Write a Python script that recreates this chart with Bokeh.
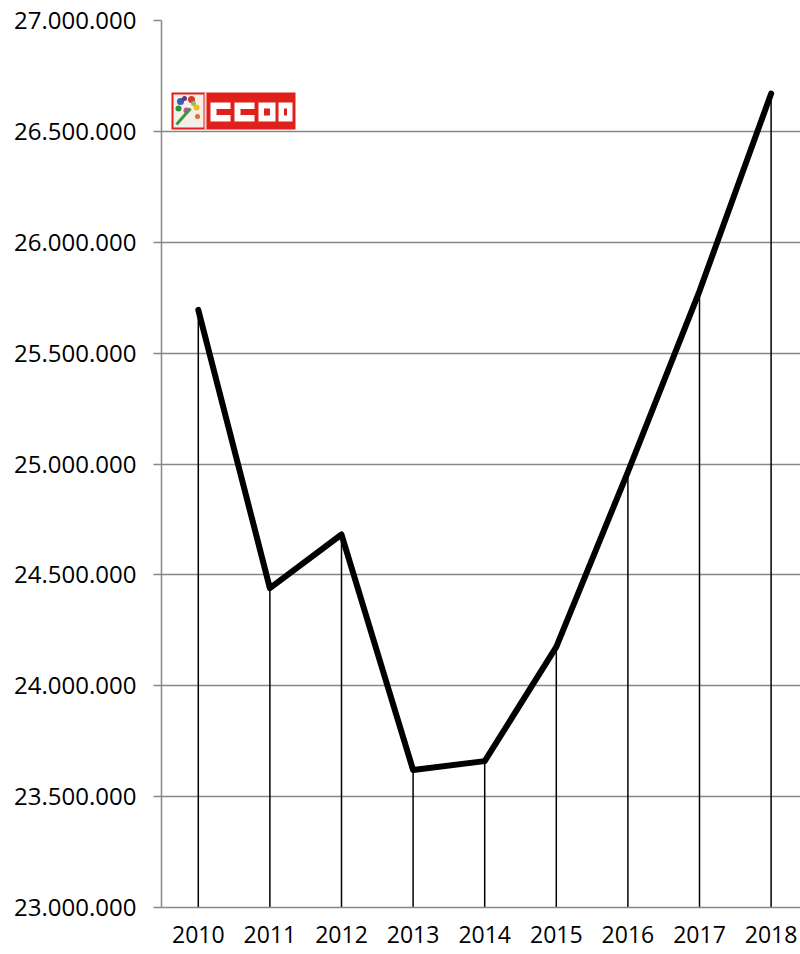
from bokeh.plotting import figure
from bokeh.models import FixedTicker, CustomJSTickFormatter, Range1d
from bokeh.embed import file_html
from bokeh.resources import INLINE

# ---- data ----
years = [2010, 2011, 2012, 2013, 2014, 2015, 2016, 2017, 2018]
values = [25695000, 24440000, 24682000, 23620000, 23660000,
          24175000, 24965000, 25780000, 26670000]
y_ticks = [23000000, 23500000, 24000000, 24500000, 25000000,
           25500000, 26000000, 26500000, 27000000]

Y_MIN, Y_MAX = 23000000, 27000000
FRAME_W = 639.0
PX_PER_YEAR = 71.6
X_START = 2010 - (197.8 - 161.0) / PX_PER_YEAR
X_END = X_START + FRAME_W / PX_PER_YEAR

GRAY = "#878787"
FONT = "Open Sans"

p = figure(width=800, height=954,
           x_range=Range1d(X_START, X_END), y_range=Range1d(Y_MIN, Y_MAX),
           output_backend="svg", toolbar_location=None,
           min_border_left=161, min_border_right=0,
           min_border_top=20, min_border_bottom=47)

p.outline_line_color = None
p.xgrid.visible = False
p.ygrid.grid_line_color = GRAY
p.ygrid.grid_line_width = 1.5
p.ygrid.ticker = FixedTicker(ticks=y_ticks)

# y axis
p.yaxis.ticker = FixedTicker(ticks=y_ticks)
p.yaxis.formatter = CustomJSTickFormatter(
    code="return Math.round(tick).toString().replace(/\\B(?=(\\d{3})+(?!\\d))/g, '.');")
p.yaxis.axis_line_color = GRAY
p.yaxis.axis_line_width = 1.5
p.yaxis.major_tick_line_color = GRAY
p.yaxis.major_tick_line_width = 1.5
p.yaxis.major_tick_out = 8
p.yaxis.major_tick_in = 0
p.yaxis.minor_tick_line_color = None
p.yaxis.major_label_standoff = 17
p.yaxis.major_label_text_font = FONT
p.yaxis.major_label_text_font_size = "24px"
p.yaxis.major_label_text_color = "black"

# x axis
p.xaxis.ticker = FixedTicker(ticks=years)
p.xaxis.axis_line_color = GRAY
p.xaxis.axis_line_width = 1.5
p.xaxis.major_tick_line_color = None
p.xaxis.major_tick_out = 0
p.xaxis.major_tick_in = 0
p.xaxis.minor_tick_line_color = None
p.xaxis.major_label_standoff = 18
p.xaxis.major_label_text_font = FONT
p.xaxis.major_label_text_font_size = "23px"
p.xaxis.major_label_text_color = "black"

# drop lines and main line
p.segment(x0=years, y0=[Y_MIN] * len(years), x1=years, y1=values,
          line_color="black", line_width=1.5)
p.line(years, values, line_color="black", line_width=6,
       line_join="round", line_cap="round")

# ---- CCOO logo (decoration, positioned in page pixels) ----
FL, FT = 161.0, 20.0
PPX = PX_PER_YEAR
PPY = 887.0 / (Y_MAX - Y_MIN)


def X(px):
    return X_START + (px - FL) / PPX


def Y(py):
    return Y_MAX - (py - FT) / PPY


def box(x0, y0, x1, y1, color):
    p.quad(left=X(x0), right=X(x1), top=Y(y0), bottom=Y(y1),
           fill_color=color, line_color=None)


RED = "#e0201b"
box(171, 92, 295, 129, RED)
box(173, 94, 203, 127, "#f4efe8")
box(204, 92, 206, 129, "#f6d8d4")
# little flower picture
p.scatter([X(180), X(191), X(178), X(196), X(186), X(197), X(184), X(193)],
          [Y(101), Y(99), Y(108), Y(107), Y(110), Y(116), Y(98), Y(103)],
          size=[7, 7, 6, 6, 6, 5, 5, 5],
          fill_color=["#3b5bb5", "#d63a2a", "#2f8f3a", "#f0c020", "#c84aa0",
                      "#e07030", "#5a3a8a", "#8fc050"],
          line_color=None)
p.line([X(176), X(190)], [Y(124), Y(108)], line_color="#3a9a3a", line_width=3)

# letters C C O O
letters = [(210, 230, "C"), (234, 254, "C"), (258, 275, "O"), (278, 292, "O")]
for x0, x1, kind in letters:
    box(x0, 102, x1, 121, "white")
    if kind == "C":
        box(x0 + 6, 108.5, x1 + 0.5, 114.5, RED)
    else:
        box(x0 + 5.5, 108, x1 - 5.5, 115, RED)

open("out.html", "w").write(file_html(p, INLINE))
